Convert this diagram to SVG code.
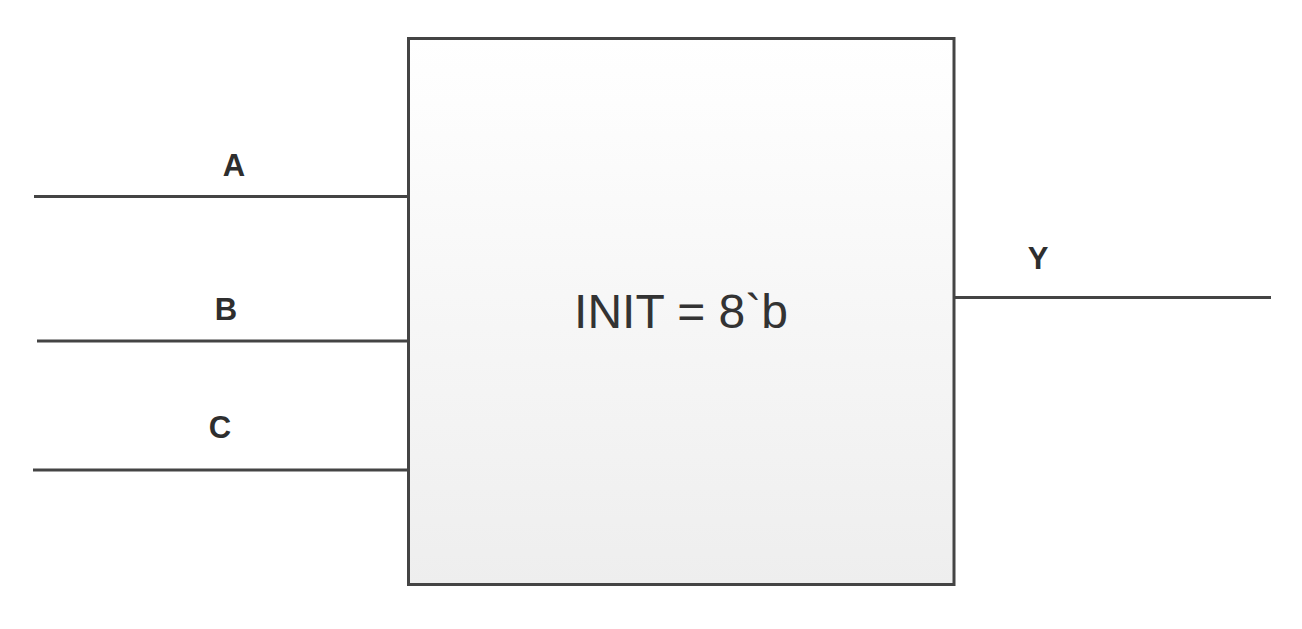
<svg xmlns="http://www.w3.org/2000/svg" width="1302" height="629" viewBox="0 0 1302 629">
  <defs>
    <linearGradient id="boxFill" x1="0" y1="0" x2="0" y2="1">
      <stop offset="0" stop-color="#ffffff"/>
      <stop offset="1" stop-color="#eeeeee"/>
    </linearGradient>
    <style>
      .wire { stroke: #444444; stroke-width: 3; fill: none; }
      .box { stroke: #444444; stroke-width: 3; fill: url(#boxFill); }
      .pin { font-family: "Liberation Sans", Arial, sans-serif; font-weight: bold; font-size: 31px; fill: #2e2e2e; text-anchor: middle; }
      .title { font-family: "Liberation Sans", Arial, sans-serif; font-size: 48px; fill: #333333; text-anchor: middle; }
    </style>
  </defs>
  <rect width="1302" height="629" fill="#ffffff"/>
  <g id="connectors">
    <line class="wire" x1="34" y1="196.5" x2="408" y2="196.5"/>
    <line class="wire" x1="37" y1="341" x2="408" y2="341"/>
    <line class="wire" x1="33" y1="470" x2="408" y2="470"/>
    <line class="wire" x1="954" y1="297.5" x2="1271" y2="297.5"/>
  </g>
  <g id="lut">
    <rect class="box" x="408.5" y="38.5" width="545.5" height="546"/>
    <text class="title" x="681" y="328">INIT = 8`b</text>
  </g>
  <g id="pin-A"><text class="pin" x="234" y="176">A</text></g>
  <g id="pin-B"><text class="pin" x="226" y="320">B</text></g>
  <g id="pin-C"><text class="pin" x="220" y="438">C</text></g>
  <g id="pin-Y"><text class="pin" x="1038" y="269">Y</text></g>
</svg>
